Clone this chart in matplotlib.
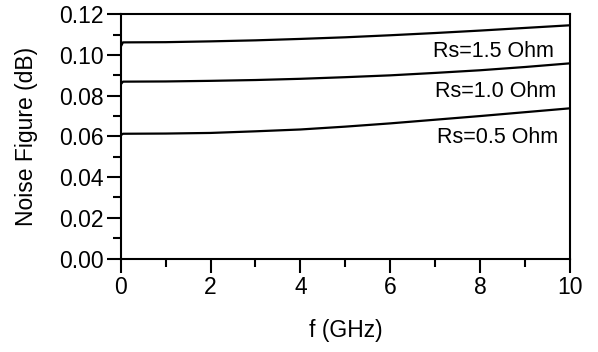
import numpy as np
import matplotlib
matplotlib.use("Agg")
import matplotlib.pyplot as plt
from matplotlib.ticker import MultipleLocator

plt.rcParams['font.family'] = ['Liberation Sans', 'DejaVu Sans']

# values
freq = [0, 0.05, 1, 2, 3, 4, 5, 6, 7, 8, 9, 10]
nf_rs15 = [0.1040, 0.1062, 0.1063, 0.1067, 0.1072, 0.1079, 0.1087, 0.1097, 0.1108, 0.1120, 0.1133, 0.1146]
nf_rs10 = [0.0855, 0.0869, 0.0870, 0.0873, 0.0877, 0.0883, 0.0891, 0.0900, 0.0912, 0.0925, 0.0941, 0.0959]
nf_rs05 = [0.0605, 0.0613, 0.0614, 0.0617, 0.0625, 0.0634, 0.0648, 0.0664, 0.0682, 0.0700, 0.0719, 0.0738]

labels = ["Rs=1.5 Ohm", "Rs=1.0 Ohm", "Rs=0.5 Ohm"]
label_x = [6.96, 7.0, 7.03]
label_y = [0.0991, 0.0795, 0.0566]

fig = plt.figure(figsize=(5.98, 3.52), dpi=100)
ax = fig.add_axes([0.2018, 0.2656, 0.7514, 0.6938])

for y in (nf_rs15, nf_rs10, nf_rs05):
    ax.plot(freq, y, color='black', lw=1.6)

for t, x, y in zip(labels, label_x, label_y):
    ax.text(x, y, t, fontsize=15.5, va='baseline', ha='left')

ax.set_xlim(0, 10)
ax.set_ylim(0, 0.12)
ax.xaxis.set_major_locator(MultipleLocator(2))
ax.xaxis.set_minor_locator(MultipleLocator(1))
ax.yaxis.set_major_locator(MultipleLocator(0.02))
ax.yaxis.set_minor_locator(MultipleLocator(0.01))
ax.yaxis.set_major_formatter(plt.FuncFormatter(lambda v, p: "%.2f" % v))

for s in ax.spines.values():
    s.set_linewidth(1.5)

ax.tick_params(which='major', direction='out', length=10, width=1.5, labelsize=16.5, pad=2)
ax.tick_params(which='minor', direction='out', length=5.5, width=1.5)
ax.tick_params(axis='x', which='major', pad=2.5)

ax.set_xlabel("f (GHz)", fontsize=16.5)
ax.set_ylabel("Noise Figure (dB)", fontsize=16.5)
ax.xaxis.set_label_coords(0.5, -0.293)
ax.xaxis.label.set_va('center')
ax.yaxis.set_label_coords(-0.2085, 0.5)
ax.yaxis.label.set_va('center')

fig.savefig("out.png", dpi=100)
